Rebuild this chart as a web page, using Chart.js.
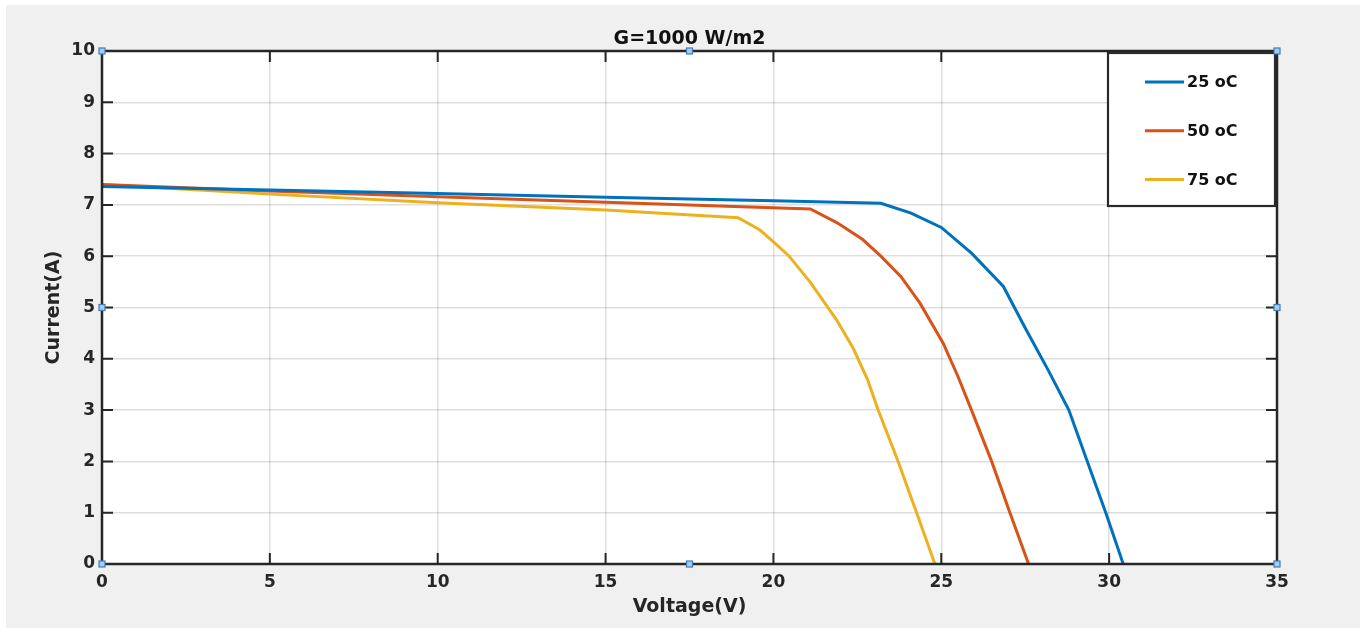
<!DOCTYPE html>
<html>
<head>
<meta charset="utf-8">
<script src="https://cdn.jsdelivr.net/npm/chart.js@4.4.1/dist/chart.umd.min.js"></script>
<style>
  html, body { margin: 0; padding: 0; background: #ffffff; }
  #wrap { position: absolute; left: 6px; top: 5px; width: 1354px; height: 623px; background: #f0f0f0; }
</style>
</head>
<body>
<div id="wrap"><canvas id="ivChart"></canvas></div>
<script>
// I-V curves at G=1000 W/m2 for three cell temperatures
const seriesLabels = ['25 oC', '50 oC', '75 oC'];
const seriesColors = ['#0072BD', '#D95319', '#EDB120'];

const voltage25 = [0, 5, 10, 15, 20, 23.2, 24.1, 25.0, 25.9, 26.85, 27.5, 28.2, 28.8, 29.35, 29.9, 30.42];
const current25 = [7.36, 7.29, 7.22, 7.15, 7.08, 7.03, 6.84, 6.56, 6.06, 5.41, 4.6, 3.76, 3.0, 2.0, 1.0, 0];

const voltage50 = [0, 5, 10, 15, 21.1, 21.9, 22.65, 23.2, 23.8, 24.37, 25.06, 25.5, 25.9, 26.5, 27.05, 27.6];
const current50 = [7.4, 7.27, 7.16, 7.05, 6.92, 6.65, 6.33, 6.0, 5.6, 5.08, 4.3, 3.65, 3.0, 2.0, 0.99, 0];

const voltage75 = [0, 5, 10, 15, 18.95, 19.6, 20.0, 20.44, 21.09, 21.88, 22.38, 22.8, 23.12, 23.72, 24.27, 24.81];
const current75 = [7.4, 7.21, 7.04, 6.9, 6.75, 6.51, 6.28, 6.02, 5.5, 4.76, 4.2, 3.6, 3.0, 1.99, 0.99, 0];

const xTicks = [0, 5, 10, 15, 20, 25, 30, 35];
const yTicks = [0, 1, 2, 3, 4, 5, 6, 7, 8, 9, 10];

const axisColor = '#262626';
const fontFamily = '"DejaVu Sans", Verdana, sans-serif';

function toPoints(xs, ys) {
    return xs.map((x, i) => ({ x: x, y: ys[i] }));
}

// white axes background
const axesBackground = {
    id: 'axesBackground',
    beforeDraw(chart) {
        const { ctx, chartArea: a } = chart;
        ctx.save();
        ctx.fillStyle = '#ffffff';
        ctx.fillRect(a.left, a.top, a.right - a.left, a.bottom - a.top);
        ctx.restore();
    }
};

// MATLAB style box, inward ticks, legend and selection handles
const matlabAxes = {
    id: 'matlabAxes',
    afterDraw(chart) {
        const { ctx, chartArea: a, scales } = chart;
        ctx.save();

        // ticks pointing inward on all four sides
        ctx.strokeStyle = axisColor;
        ctx.lineWidth = 2;
        const tl = 11;
        ctx.beginPath();
        xTicks.forEach(v => {
            const px = scales.x.getPixelForValue(v);
            ctx.moveTo(px, a.bottom); ctx.lineTo(px, a.bottom - tl);
            ctx.moveTo(px, a.top); ctx.lineTo(px, a.top + tl);
        });
        yTicks.forEach(v => {
            const py = scales.y.getPixelForValue(v);
            ctx.moveTo(a.left, py); ctx.lineTo(a.left + tl, py);
            ctx.moveTo(a.right, py); ctx.lineTo(a.right - tl, py);
        });
        ctx.stroke();

        // axes box
        ctx.lineWidth = 2.5;
        ctx.strokeRect(a.left, a.top, a.right - a.left, a.bottom - a.top);

        // legend box in the upper right corner
        const lw = 167, lh = 153;
        const lx = a.right - lw - 2, ly = a.top + 2;
        ctx.fillStyle = '#ffffff';
        ctx.fillRect(lx, ly, lw, lh);
        ctx.lineWidth = 2.2;
        ctx.strokeStyle = '#2a2a2a';
        ctx.strokeRect(lx, ly, lw, lh);
        ctx.font = 'bold 16px ' + fontFamily;
        ctx.textBaseline = 'middle';
        ctx.textAlign = 'left';
        chart.data.datasets.forEach((ds, i) => {
            const rowY = ly + 29 + i * 48.7;
            ctx.strokeStyle = ds.borderColor;
            ctx.lineWidth = 3;
            ctx.beginPath();
            ctx.moveTo(lx + 37, rowY);
            ctx.lineTo(lx + 76, rowY);
            ctx.stroke();
            ctx.fillStyle = '#111111';
            ctx.fillText(ds.label, lx + 79, rowY + 1);
        });

        // selection handles on corners and edge midpoints
        const mx = (a.left + a.right) / 2, my = (a.top + a.bottom) / 2;
        const handles = [
            [a.left, a.top], [mx, a.top], [a.right, a.top],
            [a.left, my], [a.right, my],
            [a.left, a.bottom], [mx, a.bottom], [a.right, a.bottom]
        ];
        ctx.fillStyle = '#a9cbea';
        ctx.strokeStyle = '#3b7dbf';
        ctx.lineWidth = 1.2;
        handles.forEach(([hx, hy]) => {
            ctx.fillRect(hx - 3, hy - 3, 6, 6);
            ctx.strokeRect(hx - 3, hy - 3, 6, 6);
        });
        ctx.restore();
    }
};

const ctx = document.getElementById('ivChart').getContext('2d');
new Chart(ctx, {
    type: 'line',
    data: {
        datasets: [
            { label: seriesLabels[0], data: toPoints(voltage25, current25), borderColor: seriesColors[0] },
            { label: seriesLabels[1], data: toPoints(voltage50, current50), borderColor: seriesColors[1] },
            { label: seriesLabels[2], data: toPoints(voltage75, current75), borderColor: seriesColors[2] }
        ]
    },
    options: {
        responsive: true,
        maintainAspectRatio: false,
        devicePixelRatio: 1,
        animation: false,
        clip: false,
        elements: {
            line: { borderWidth: 3, tension: 0, fill: false },
            point: { radius: 0, hoverRadius: 0 }
        },
        layout: { padding: { top: 0, right: 0, bottom: 0, left: 13 } },
        plugins: {
            legend: { display: false },
            tooltip: { enabled: false },
            title: {
                display: true,
                text: 'G=1000 W/m2',
                color: '#111111',
                font: { family: fontFamily, size: 19, weight: 'bold', lineHeight: 1 },
                padding: { top: 25, bottom: 2 }
            }
        },
        scales: {
            x: {
                type: 'linear',
                min: 0,
                max: 35,
                afterBuildTicks: scale => { scale.ticks = xTicks.map(v => ({ value: v })); },
                afterFit: scale => { scale.height = 64; },
                grid: { color: 'rgba(0,0,0,0.13)', lineWidth: 1.5, drawTicks: false },
                border: { display: false },
                ticks: {
                    color: axisColor,
                    padding: 8,
                    maxRotation: 0,
                    font: { family: fontFamily, size: 17, weight: 'bold' }
                },
                title: {
                    display: true,
                    text: 'Voltage(V)',
                    color: axisColor,
                    font: { family: fontFamily, size: 19, weight: 'bold' },
                    padding: { top: 0, bottom: 10 }
                }
            },
            y: {
                type: 'linear',
                min: 0,
                max: 10,
                afterBuildTicks: scale => { scale.ticks = yTicks.map(v => ({ value: v })); },
                afterFit: scale => { scale.width = 83; },
                grid: { color: 'rgba(0,0,0,0.13)', lineWidth: 1.5, drawTicks: false },
                border: { display: false },
                ticks: {
                    color: axisColor,
                    padding: 7,
                    font: { family: fontFamily, size: 17, weight: 'bold' }
                },
                title: {
                    display: true,
                    text: 'Current(A)',
                    color: axisColor,
                    font: { family: fontFamily, size: 19, weight: 'bold' },
                    padding: { top: 24, bottom: 0 }
                }
            },
            // empty right margin so the title centres over the axes
            yRight: {
                type: 'linear',
                position: 'right',
                min: 0,
                max: 10,
                afterFit: scale => { scale.width = 83; },
                grid: { drawOnChartArea: false, drawTicks: false },
                border: { display: false },
                ticks: { display: false }
            }
        }
    },
    plugins: [axesBackground, matlabAxes]
});
</script>
</body>
</html>
